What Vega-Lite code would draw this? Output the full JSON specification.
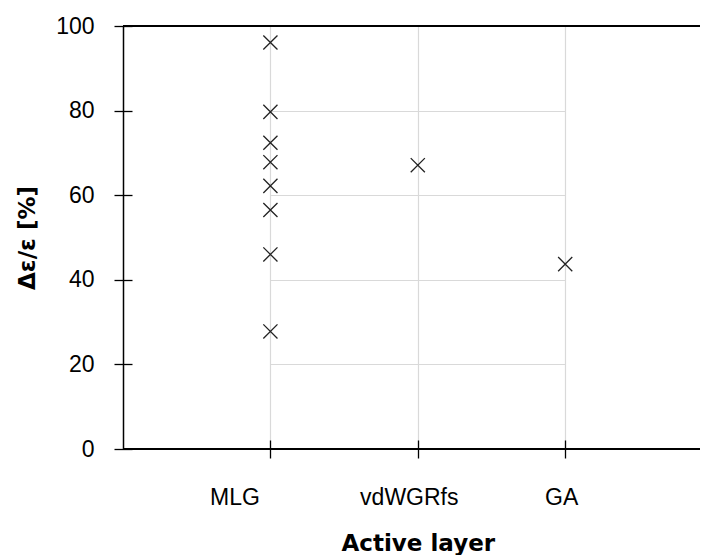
{
  "$schema": "https://vega.github.io/schema/vega-lite/v6.json",
  "width": 577,
  "height": 423,
  "autosize": {"type": "none"},
  "padding": {"left": 123, "top": 26, "right": 2, "bottom": 106},
  "config": {
    "view": {"stroke": null},
    "font": "Liberation Sans",
    "axis": {
      "labelColor": "black",
      "titleColor": "black",
      "tickColor": "black",
      "domainColor": "black",
      "gridColor": "#d9d9d9",
      "gridWidth": 1.2,
      "tickWidth": 1.3,
      "domainWidth": 1.5,
      "labelFontSize": 23,
      "titleFont": "DejaVu Sans",
      "titleFontSize": 23,
      "titleFontWeight": "bold"
    }
  },
  "data": {
    "values": [
      {"layer": "MLG", "value": 96.1},
      {"layer": "MLG", "value": 79.7},
      {"layer": "MLG", "value": 72.4},
      {"layer": "MLG", "value": 67.8},
      {"layer": "MLG", "value": 62.2},
      {"layer": "MLG", "value": 56.5},
      {"layer": "MLG", "value": 46.0},
      {"layer": "MLG", "value": 27.8},
      {"layer": "vdWGRfs", "value": 67.1},
      {"layer": "GA", "value": 43.7}
    ]
  },
  "layer": [
    {
      "mark": {"type": "rule", "color": "black", "strokeWidth": 1.6},
      "encoding": {"y": {"datum": 100, "type": "quantitative", "axis": null}}
    },
    {
      "mark": {"type": "rule", "color": "black", "strokeWidth": 1.5},
      "encoding": {"y": {"datum": 0, "type": "quantitative", "axis": null}}
    },
    {
      "mark": {
        "type": "point",
        "shape": "M-1,-1L1,1M1,-1L-1,1",
        "filled": false,
        "stroke": "#222222",
        "strokeWidth": 1.3,
        "size": 200,
        "opacity": 1
      },
      "encoding": {
        "x": {
          "field": "layer",
          "type": "nominal",
          "sort": ["MLG", "vdWGRfs", "GA"],
          "scale": {"type": "point", "range": [147.4, 442.2], "padding": 0},
          "axis": {
            "orient": "bottom",
            "title": "Active layer",
            "labelAngle": 0,
            "grid": true,
            "domain": false,
            "tickSize": 9,
            "labelPadding": 28,
            "titlePadding": 23,
            "labelOffset": {
              "condition": [
                {"test": "datum.value === 'MLG'", "value": -36},
                {"test": "datum.value === 'vdWGRfs'", "value": -9}
              ],
              "value": -4
            }
          }
        },
        "y": {
          "field": "value",
          "type": "quantitative",
          "scale": {"domain": [0, 100], "nice": false},
          "axis": {
            "orient": "left",
            "title": "Δε/ε [%]",
            "grid": true,
            "values": [0, 20, 40, 60, 80, 100],
            "tickSize": 9,
            "labelPadding": 20,
            "titlePadding": 16
          }
        }
      }
    },
    {
      "mark": {"type": "point", "opacity": 0},
      "encoding": {
        "x": {
          "field": "layer",
          "type": "nominal",
          "sort": ["MLG", "vdWGRfs", "GA"],
          "axis": {
            "orient": "bottom",
            "offset": -9,
            "tickSize": 9,
            "labels": false,
            "domain": false,
            "grid": false,
            "title": null
          }
        },
        "y": {
          "field": "value",
          "type": "quantitative",
          "axis": {
            "orient": "left",
            "offset": -9,
            "tickSize": 9,
            "values": [0, 20, 40, 60, 80, 100],
            "labels": false,
            "domain": false,
            "grid": false,
            "title": null
          }
        }
      }
    }
  ],
  "resolve": {"axis": {"x": "independent", "y": "independent"}}
}
